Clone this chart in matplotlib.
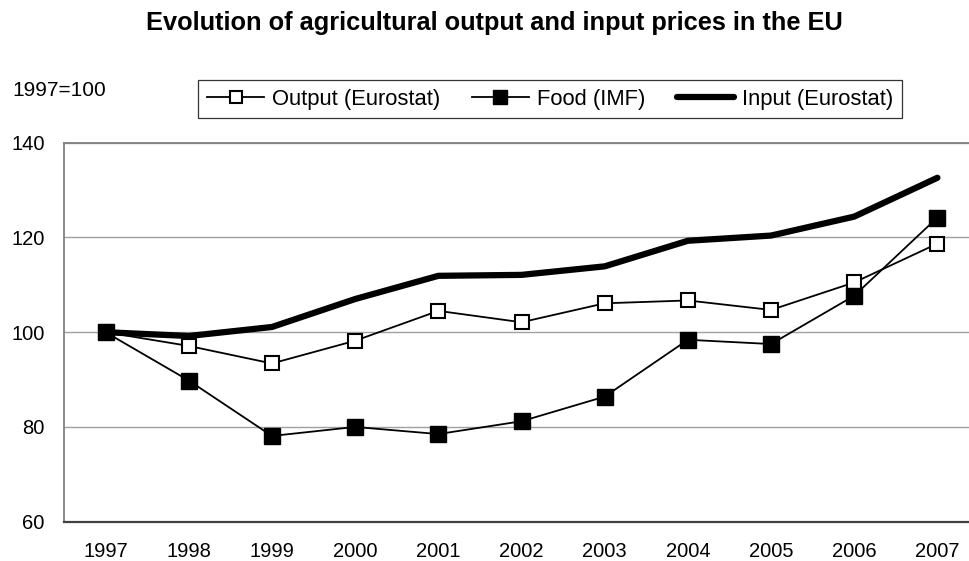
import matplotlib
matplotlib.use("Agg")
import matplotlib.pyplot as plt

years = ["1997", "1998", "1999", "2000", "2001", "2002", "2003", "2004", "2005", "2006", "2007"]
output_eurostat = [100, 97.1, 93.4, 98.2, 104.5, 102.1, 106.1, 106.7, 104.7, 110.5, 118.7]
food_imf = [100, 89.8, 78.1, 80.0, 78.5, 81.2, 86.4, 98.4, 97.5, 107.7, 124.2]
input_eurostat = [100, 99.2, 101.1, 107.0, 111.9, 112.1, 113.9, 119.3, 120.4, 124.4, 132.6]
yticks = [60, 80, 100, 120, 140]

plt.rcParams['font.family'] = ['Liberation Sans', 'DejaVu Sans']

W, H = 970, 561
fig = plt.figure(figsize=(W / 100, H / 100), dpi=100)
left, right, top, bottom = 64, 979, 142.7, 521.7
ax = fig.add_axes([left / W, 1 - bottom / H, (right - left) / W, (bottom - top) / H])

x = list(range(len(years)))
ax.plot(x, input_eurostat, color='black', lw=4.5, solid_capstyle='round',
        solid_joinstyle='round', label='Input (Eurostat)', zorder=3)
ax.plot(x, output_eurostat, color='black', lw=1.3, marker='s', ms=10,
        mfc='white', mec='black', mew=1.5, label='Output (Eurostat)', zorder=4)
ax.plot(x, food_imf, color='black', lw=1.3, marker='s', ms=11,
        mfc='black', mec='black', label='Food (IMF)', zorder=5)

ax.set_xlim(-0.5, 10.5)
ax.set_ylim(60, 140)
ax.set_yticks(yticks)
ax.set_xticks(x)
ax.set_xticklabels(years)
ax.tick_params(axis='both', length=0, labelsize=14.5)
ax.tick_params(axis='y', pad=14)
ax.tick_params(axis='x', pad=14.5)
ax.yaxis.grid(True, color='#a0a0a0', lw=1)
ax.set_axisbelow(True)
for s in ['left', 'top']:
    ax.spines[s].set_color('#808080')
    ax.spines[s].set_linewidth(1.3)
ax.spines['bottom'].set_color('#404040')
ax.spines['bottom'].set_linewidth(1.6)
ax.spines['right'].set_visible(False)

fig.text(494 / W, 1 - 30 / H, "Evolution of agricultural output and input prices in the EU",
         ha='center', va='baseline', fontsize=18.3, fontweight='bold')
fig.text(12 / W, 1 - 90 / H, "1997=100", ha='left', va='center', fontsize=15)

handles, labels = ax.get_legend_handles_labels()
order = [1, 2, 0]
leg = fig.legend([handles[i] for i in order], [labels[i] for i in order],
                 loc='center', bbox_to_anchor=(550 / W, 1 - 99 / H), ncol=3,
                 fontsize=15.8, frameon=True, fancybox=False, edgecolor='black',
                 handlelength=2.6, handletextpad=0.35, columnspacing=1.45,
                 markerscale=0.9, borderpad=0.4)
leg.get_frame().set_linewidth(0.9)

fig.savefig("out.png", dpi=100)
